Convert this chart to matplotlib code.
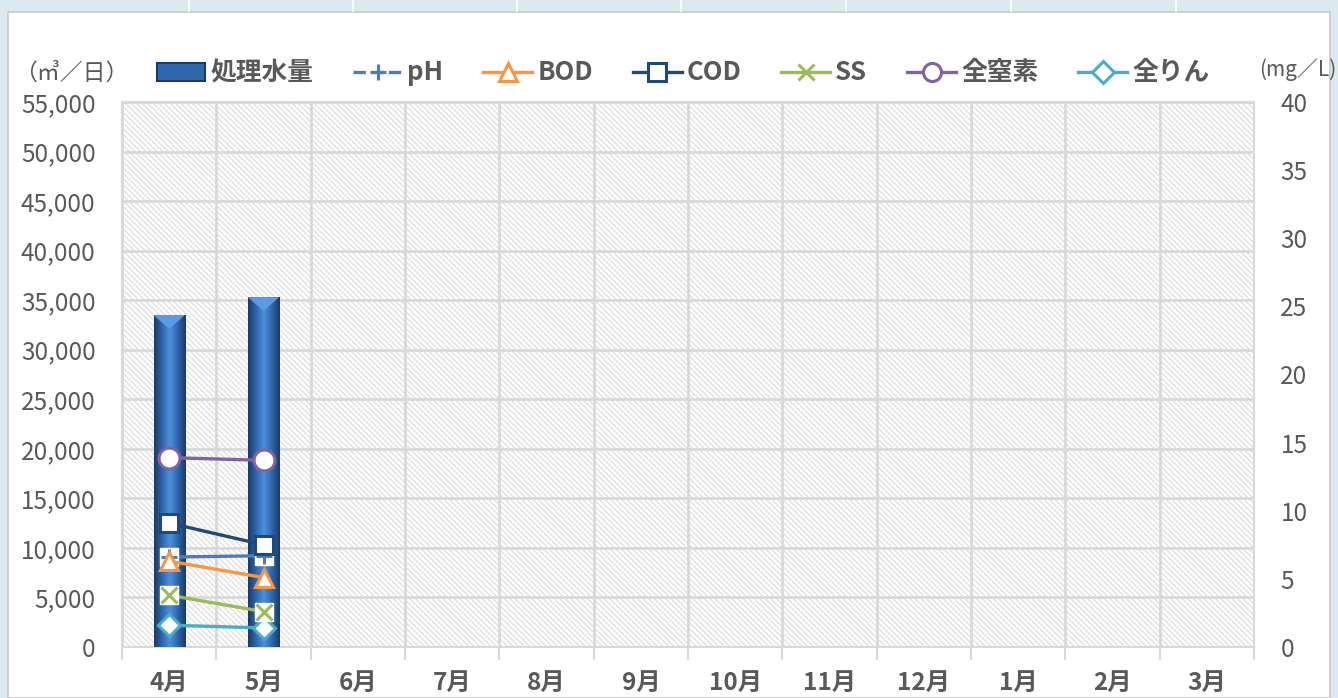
import numpy as np
import matplotlib
matplotlib.use("Agg")
import matplotlib.pyplot as plt
from matplotlib.patches import Patch, Rectangle
from matplotlib.lines import Line2D
from matplotlib.colors import LinearSegmentedColormap

plt.rcParams['font.family'] = ['Noto Sans CJK JP', 'DejaVu Sans']
plt.rcParams['hatch.color'] = '#dedede'
plt.rcParams['hatch.linewidth'] = 0.9

# データ
months = ["4月", "5月", "6月", "7月", "8月", "9月", "10月", "11月", "12月", "1月", "2月", "3月"]
flow = [33500, 35300]          # 処理水量 (㎥/日)
ph = [6.6, 6.7]
bod = [6.3, 5.1]
cod = [9.1, 7.5]
ss = [3.8, 2.6]
tn = [13.9, 13.7]             # 全窒素
tp = [1.6, 1.4]               # 全りん

gray = '#595959'
grid_c = '#d9d9d9'

fig = plt.figure(figsize=(13.38, 6.98), dpi=100)

# 背景（シートの枠）
fig.patches.append(Rectangle((0, 0), 1, 1, transform=fig.transFigure,
                             facecolor='#dde9f1', edgecolor='none', zorder=-10))
fig.patches.append(Rectangle((8/1338, 0), 1322/1338, 686/698, transform=fig.transFigure,
                             facecolor='white', edgecolor='#c8c8c8', lw=1.2, zorder=-9))
for xv in [188, 352, 516, 680, 845, 1010, 1175]:
    fig.patches.append(Rectangle((xv/1338, 686/698), 2/1338, 12/698, transform=fig.transFigure,
                                 facecolor='white', edgecolor='none', zorder=-8))

ax = fig.add_axes([122/1338, 51/698, 1132/1338, 545/698])
ax.patch.set_facecolor('white')
ax.patch.set_hatch('\\\\\\\\\\\\')
ax.patch.set_edgecolor('#dedede')
ax.patch.set_linewidth(0)

x = np.arange(len(months))
ax.set_xlim(-0.5, len(months) - 0.5)
ax.set_ylim(0, 55000)
ax.set_yticks(np.arange(0, 55001, 5000))
ax.set_yticklabels([f"{v:,}" for v in range(0, 55001, 5000)])
ax.set_xticks(x)
ax.set_xticklabels(months, fontweight='bold')
ax.set_xticks(np.arange(-0.5, len(months)), minor=True)
ax.tick_params(axis='x', which='major', length=0, pad=17, labelsize=17.5, labelcolor=gray)
ax.tick_params(axis='x', which='minor', length=9, color=grid_c, width=1.5)
ax.tick_params(axis='y', length=0, labelsize=17.5, labelcolor=gray, pad=19)
ax.grid(True, axis='y', color=grid_c, lw=2)
ax.grid(True, axis='x', which='minor', color=grid_c, lw=2)
ax.set_axisbelow(True)
for s in ax.spines.values():
    s.set_color(grid_c)
    s.set_linewidth(1.5)

# 処理水量 棒（グラデーション）
bw = 0.33
cmap = LinearSegmentedColormap.from_list('bar', ['#1c3a66', '#2f67ad', '#4d8fdb', '#2f67ad', '#1c3a66'])
grad = np.linspace(0, 1, 64).reshape(1, -1)
for i, v in enumerate(flow):
    bars = ax.bar(x[i], v, width=bw, color='none', edgecolor='none', zorder=3)
    im = ax.imshow(grad, cmap=cmap, aspect='auto', zorder=3,
                   extent=(x[i] - bw/2, x[i] + bw/2, 0, v))
    im.set_clip_path(bars[0])
    ax.fill([x[i] - bw/2, x[i] + bw/2, x[i]], [v, v, v - 1400], color='#5b9be6', zorder=4, lw=0)
ax.set_xlim(-0.5, len(months) - 0.5)
ax.set_ylim(0, 55000)

ax2 = ax.twinx()
ax2.set_ylim(0, 40)
ax2.set_yticks(np.arange(0, 41, 5))
ax2.tick_params(axis='y', length=0, labelsize=17.5, labelcolor=gray, pad=19)
for s in ax2.spines.values():
    s.set_visible(False)

xm = x[:len(flow)]
lw = 2.4
ms = 13
ax2.plot(xm, tp, color='#4bacc6', lw=lw, marker='D', ms=11, mfc='white', mec='#4bacc6', mew=2.2, zorder=5)
ax2.plot(xm, ss, color='#9bbb59', lw=lw, marker='s', ms=ms, mfc='white', mec='white', zorder=5)
ax2.plot(xm, ss, color='none', lw=0, marker='x', ms=12, mec='#9bbb59', mew=2.2, zorder=5)
ax2.plot(xm, bod, color='#f79646', lw=lw, marker='^', ms=ms, mfc='white', mec='#f79646', mew=2.2, zorder=6)
ax2.plot(xm, ph, color='#4a7ebb', lw=lw, marker='s', ms=ms, mfc='white', mec='white', zorder=5)
ax2.plot(xm, ph, color='none', lw=0, marker='+', ms=12, mec='#4a7ebb', mew=2.2, zorder=5)
ax2.plot(xm, cod, color='#1f497d', lw=lw, marker='s', ms=ms, mfc='white', mec='#1f497d', mew=2.2, zorder=6)
ax2.plot(xm, tn, color='#8064a2', lw=lw, marker='o', ms=15, mfc='white', mec='#8064a2', mew=2.2, zorder=6)

# 凡例
handles = [
    Patch(facecolor='#2f67ad', edgecolor='#1c3a66', lw=1.5),
    Line2D([], [], color='#4a7ebb', lw=lw, ls='--', marker='+', ms=12, mew=2.2),
    Line2D([], [], color='#f79646', lw=lw, marker='^', ms=ms, mfc='white', mew=2.2),
    Line2D([], [], color='#1f497d', lw=lw, marker='s', ms=ms, mfc='white', mew=2.2),
    Line2D([], [], color='#9bbb59', lw=lw, marker='x', ms=12, mew=2.2),
    Line2D([], [], color='#8064a2', lw=lw, marker='o', ms=ms, mfc='white', mew=2.2),
    Line2D([], [], color='#4bacc6', lw=lw, marker='D', ms=11, mfc='white', mew=2.2),
]
labels = ["処理水量", "pH", "BOD", "COD", "SS", "全窒素", "全りん"]
leg = fig.legend(handles, labels, ncol=7, loc='center', bbox_to_anchor=(683/1338, 1 - 73/698),
                 frameon=False, prop={'size': 18.5, 'weight': 'bold'}, handlelength=1.9,
                 handletextpad=0.2, columnspacing=1.55, labelcolor=gray)

fig.text(14/1338, 1 - 73/698, "（㎥／日）", fontsize=16.5, color=gray, va='center', ha='left')
fig.text(1336/1338, 1 - 70/698, "(mg／L)", fontsize=15, color=gray, va='center', ha='right')

fig.savefig("out.png", dpi=100)
